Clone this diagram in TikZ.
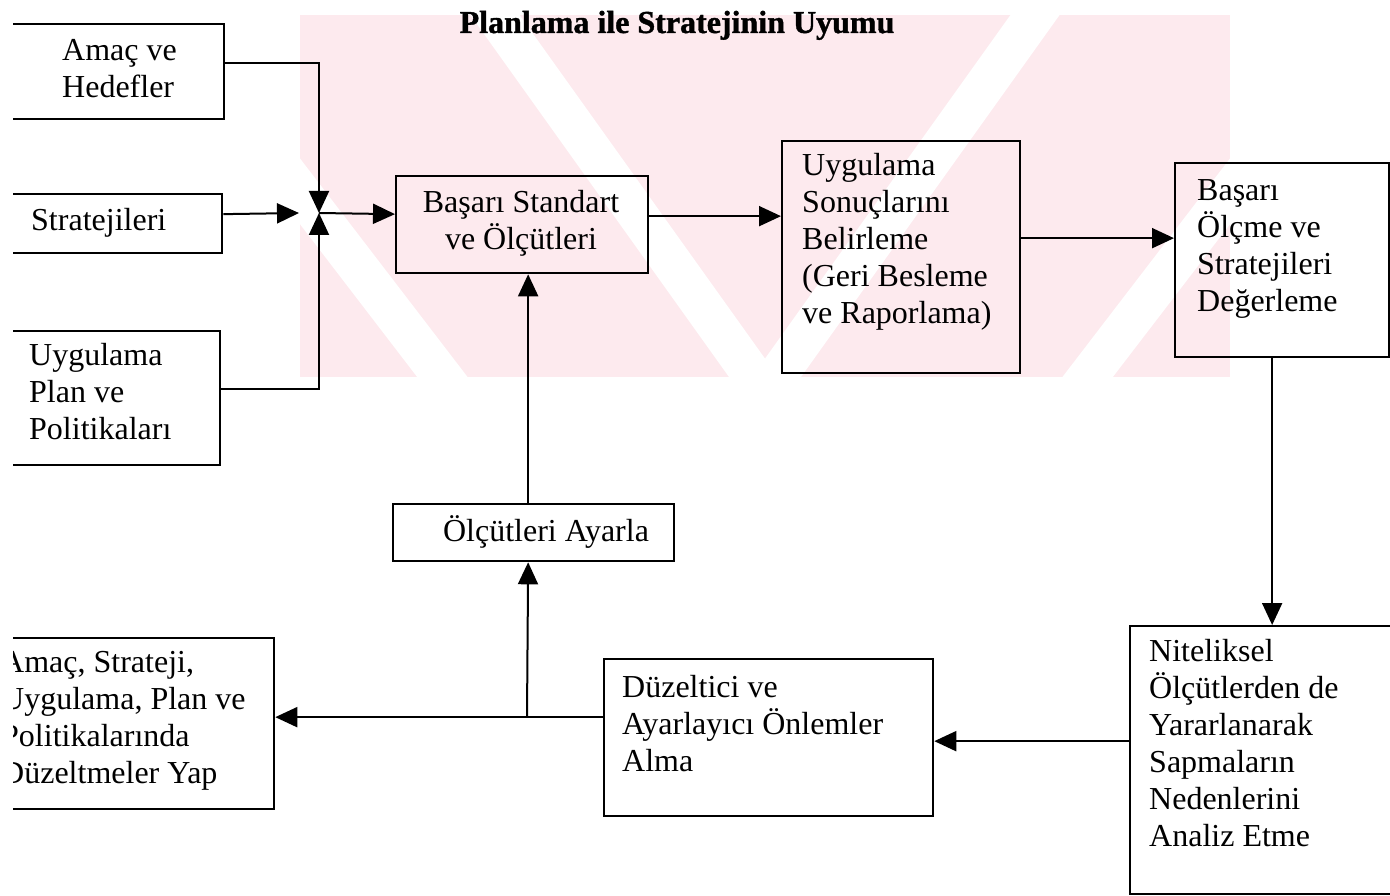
\documentclass[tikz,border=0pt]{standalone}
\usepackage{fontspec}
\setmainfont{Liberation Serif}
\newfontfamily\titlefont{Liberation Serif Bold}[FakeBold=1.2]
\usetikzlibrary{arrows.meta}
\definecolor{wmpink}{RGB}{253,234,238}
\newcommand\firstline{\rule{0pt}{30pt}}
\begin{document}
\begin{tikzpicture}[x=1pt,y=-1pt,
  box/.style={draw, line width=2.3pt, inner sep=0pt, anchor=north west},
  txt/.style={inner sep=0pt, font=\fontsize{32}{37}\selectfont, align=left, anchor=north west},
  ctxt/.style={inner sep=0pt, font=\fontsize{32}{37}\selectfont, align=center, anchor=north},
  conn/.style={line width=2pt},
  arr/.style={conn, -{Triangle[length=22pt,width=20pt]}},
  stripe/.style={white, line width=40pt},
]
\useasboundingbox (0,0) rectangle (1390,896);

% faint background emblem
\begin{scope}
  \clip (300,15) rectangle (1230,377);
  \fill[wmpink] (300,15) rectangle (1230,377);
  \draw[stripe] (470,-20) -- (770,400);
  \draw[stripe] (230,100) -- (460,400);
  \draw[stripe] (1060,-20) -- (760,400);
  \draw[stripe] (1300,100) -- (1070,400);
\end{scope}

\begin{scope}
\clip (13,0) rectangle (1390,896);

% title
\node[font=\titlefont\fontsize{32}{37}\selectfont, inner sep=0pt, anchor=base] (title) at (677,33) {Planlama ile Stratejinin Uyumu};

% boxes
\node[box, minimum width=233pt, minimum height=95pt]  (amac)   at (-10,23)  {};
\node[box, minimum width=231pt, minimum height=59pt]  (strat)  at (-10,193) {};
\node[box, minimum width=229pt, minimum height=134pt] (uplan)  at (-10,330) {};
\node[box, minimum width=252pt, minimum height=97pt]  (basari) at (395,175) {};
\node[box, minimum width=238pt, minimum height=232pt] (uyg)    at (781,140) {};
\node[box, minimum width=214pt, minimum height=194pt] (olcme)  at (1174,162) {};
\node[box, minimum width=270pt, minimum height=268pt] (nitel)  at (1129,625) {};
\node[box, minimum width=329pt, minimum height=157pt] (duzelt) at (603,658) {};
\node[box, minimum width=281pt, minimum height=57pt]  (ayarla) at (392,503) {};
\node[box, minimum width=283pt, minimum height=171pt] (duzyap) at (-10,637) {};

% box texts
\node[txt] (tamac)   at (62,30)    {\firstline Amaç ve\\Hedefler};
\node[txt] (tstrat)  at (31,200)   {\firstline Stratejileri};
\node[txt] (tuplan)  at (29,335)   {\firstline Uygulama\\Plan ve\\Politikaları};
\node[ctxt] (tbasari) at (521,182) {\firstline Başarı Standart\\ve Ölçütleri};
\node[txt] (tuyg)    at (802,145)  {\firstline Uygulama\\Sonuçlarını\\Belirleme\\(Geri Besleme\\ve Raporlama)};
\node[txt] (tolcme)  at (1197,170) {\firstline Başarı\\Ölçme ve\\Stratejileri\\Değerleme};
\node[txt] (tnitel)  at (1149,631) {\firstline Niteliksel\\Ölçütlerden de\\Yararlanarak\\Sapmaların\\Nedenlerini\\Analiz Etme};
\node[txt] (tduzelt) at (622,667)  {\firstline Düzeltici ve\\Ayarlayıcı Önlemler\\Alma};
\node[ctxt] (tayarla) at (546,511) {\firstline Ölçütleri Ayarla};
\node[txt] (tduzyap) at (1,642)    {\firstline Amaç, Strateji,\\Uygulama, Plan ve\\Politikalarında\\Düzeltmeler Yap};

% connectors
\coordinate (jn) at (319,213);
\coordinate (jb) at (527,716);
\draw[arr] ([yshift=8.5pt]amac.east) -| (jn);
\draw[arr] ([yshift=9pt]uplan.east) -| (jn);
\draw[arr] ([yshift=9.5pt]strat.east) -- ([xshift=-20pt]jn);
\draw[arr] (jn) -- ([yshift=10.5pt]basari.west);
\draw[arr] ([yshift=8.5pt]basari.east) -- ([yshift=41pt]uyg.west);
\draw[arr] ([yshift=19pt]uyg.east) -- ([yshift=22pt]olcme.west);
\draw[arr] ([xshift=-10pt]olcme.south) -- ([xshift=-10pt]olcme.south |- nitel.north);
\draw[arr] ([yshift=19pt]nitel.west) -- ([yshift=-3.5pt]duzelt.east);
\draw[arr] ([yshift=20.5pt]duzelt.west) -- ([yshift=6.5pt]duzyap.east);
\draw[arr] (jb) -- ([xshift=-5.5pt]ayarla.south);
\draw[arr] ([xshift=-5.5pt]ayarla.north) -- ([xshift=6pt]basari.south);
\end{scope}
\end{tikzpicture}
\end{document}
